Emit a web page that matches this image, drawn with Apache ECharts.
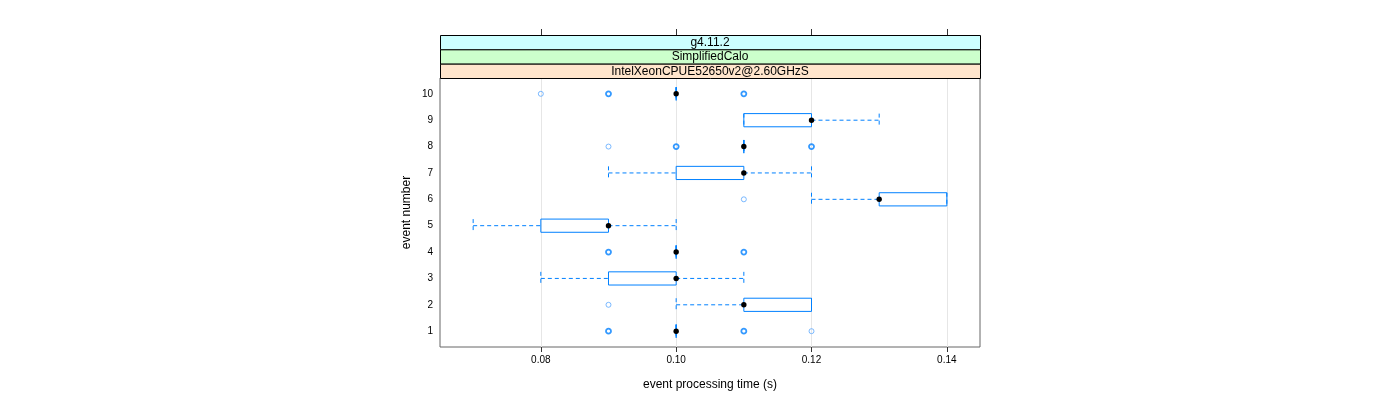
<!DOCTYPE html>
<html><head><meta charset="utf-8">
<script src="https://cdn.jsdelivr.net/npm/echarts@6/dist/echarts.min.js"></script>
<style>html,body{margin:0;padding:0;background:#fff}#c{width:1400px;height:400px}</style>
</head><body><div id="c"></div>
<script>
// ---- data ----
const events = [1, 2, 3, 4, 5, 6, 7, 8, 9, 10];
const whiskerLow  = [0.10, 0.10, 0.08, 0.10, 0.07, 0.12, 0.09, 0.11, 0.11, 0.10];
const quart1      = [0.10, 0.11, 0.09, 0.10, 0.08, 0.13, 0.10, 0.11, 0.11, 0.10];
const medians     = [0.10, 0.11, 0.10, 0.10, 0.09, 0.13, 0.11, 0.11, 0.12, 0.10];
const quart3      = [0.10, 0.12, 0.10, 0.10, 0.09, 0.14, 0.11, 0.11, 0.12, 0.10];
const whiskerHigh = [0.10, 0.12, 0.11, 0.10, 0.10, 0.14, 0.12, 0.11, 0.13, 0.10];
const outlierEvents = [1, 1, 1, 2, 4, 4, 6, 8, 8, 8, 10, 10, 10];
const outlierValues = [0.09, 0.11, 0.12, 0.09, 0.09, 0.11, 0.11, 0.09, 0.10, 0.12, 0.08, 0.09, 0.11];
const outlierCounts = [2, 2, 1, 1, 2, 2, 1, 1, 2, 2, 1, 2, 2];
const xTicks = [0.08, 0.10, 0.12, 0.14];
const xTickLabels = ['0.08', '0.10', '0.12', '0.14'];
const stripLabels = ['g4.11.2', 'SimplifiedCalo', 'IntelXeonCPUE52650v2@2.60GHzS'];
const xTitle = 'event processing time (s)';
const yTitle = 'event number';

// ---- style / layout ----
const BLUE = '#0080ff';
const FONT = 'Liberation Sans, Arial, sans-serif';
const GL = 440, GR = 420, GT = 78, GB = 53, GW = 1400 - GL - GR;
const STRIP_TOP = 35, STRIP_H = (GT - STRIP_TOP) / 3;
const stripColors = ['#ccffff', '#ccffcc', '#ffe5cc'];

const boxData = events.map((e, i) => [e, whiskerLow[i], quart1[i], medians[i], quart3[i], whiskerHigh[i]]);
const singles = [], repeats = [];
outlierEvents.forEach((e, i) => {
  (outlierCounts[i] > 1 ? repeats : singles).push([outlierValues[i], e]);
});

function renderBox(params, api) {
  const y = api.value(0);
  const lo = api.coord([api.value(1), y]);
  const b1 = api.coord([api.value(2), y]);
  const m = api.coord([api.value(3), y]);
  const b3 = api.coord([api.value(4), y]);
  const hi = api.coord([api.value(5), y]);
  const h = Math.abs(api.size([0, 0.5])[1]);
  const half = h / 2, cy = m[1];
  const dash = { stroke: BLUE, lineWidth: 1, lineDash: [4, 3], fill: null };
  return { type: 'group', children: [
    { type: 'line', shape: { x1: lo[0], y1: cy, x2: b1[0], y2: cy }, style: dash },
    { type: 'line', shape: { x1: b3[0], y1: cy, x2: hi[0], y2: cy }, style: dash },
    { type: 'line', shape: { x1: lo[0], y1: cy - half, x2: lo[0], y2: cy + half }, style: dash },
    { type: 'line', shape: { x1: hi[0], y1: cy - half, x2: hi[0], y2: cy + half }, style: dash },
    { type: 'rect', shape: { x: b1[0], y: cy - half, width: b3[0] - b1[0], height: h },
      style: { fill: null, stroke: BLUE, lineWidth: 1 } },
    { type: 'circle', shape: { cx: m[0], cy: cy, r: 2.7 }, style: { fill: '#000' } }
  ]};
}

const graphics = [];
stripLabels.forEach((s, i) => {
  graphics.push({ type: 'rect', left: GL, top: STRIP_TOP + i * STRIP_H, z: 10,
    shape: { width: GW, height: STRIP_H },
    style: { fill: stripColors[i], stroke: '#000', lineWidth: 1 } });
  graphics.push({ type: 'text', z: 11,
    x: GL + GW / 2, y: STRIP_TOP + i * STRIP_H + STRIP_H / 2 + 0.5,
    style: { text: s, fill: '#000', font: '12px ' + FONT, align: 'center', verticalAlign: 'middle' } });
});

const chart = echarts.init(document.getElementById('c'), null, { renderer: 'canvas' });
chart.setOption({
  animation: false,
  backgroundColor: '#fff',
  textStyle: { fontFamily: FONT },
  grid: { left: GL, right: GR, top: GT, bottom: GB, show: true, borderColor: '#666', borderWidth: 1, backgroundColor: 'transparent' },
  xAxis: [{
    type: 'value', position: 'bottom', min: 0.0651, max: 0.1449,
    axisLine: { show: false },
    axisTick: { show: true, customValues: xTicks, length: 5, lineStyle: { color: '#333' } },
    axisLabel: { customValues: xTicks, formatter: v => xTickLabels[xTicks.findIndex(t => Math.abs(t - v) < 1e-9)] || '',
      color: '#000', fontSize: 10, margin: 8, fontFamily: FONT },
    splitLine: { show: true, customValues: xTicks, lineStyle: { color: '#e6e6e6', width: 1 } },
    name: xTitle, nameLocation: 'middle', nameGap: 32,
    nameTextStyle: { color: '#000', fontSize: 12, fontFamily: FONT }
  }, {
    type: 'value', position: 'top', offset: GT - STRIP_TOP, min: 0.0651, max: 0.1449,
    axisLine: { show: false },
    axisTick: { show: true, customValues: xTicks, length: 6, lineStyle: { color: '#333' } },
    axisLabel: { show: false, customValues: xTicks },
    splitLine: { show: false }
  }],
  yAxis: {
    type: 'value', min: 0.4, max: 10.6,
    axisLine: { show: false },
    axisTick: { show: false, customValues: events },
    axisLabel: { customValues: events, color: '#000', fontSize: 10, margin: 7, fontFamily: FONT },
    splitLine: { show: false },
    name: yTitle, nameLocation: 'middle', nameGap: 27,
    nameTextStyle: { color: '#000', fontSize: 12, fontFamily: FONT }
  },
  graphic: graphics,
  series: [
    { type: 'custom', renderItem: renderBox, data: boxData, encode: { x: [1, 2, 3, 4, 5], y: 0 }, z: 3 },
    { type: 'scatter', data: singles, symbol: 'circle', symbolSize: 5, z: 4,
      itemStyle: { color: 'rgba(255,255,255,0)', borderColor: '#5aa8ff', borderWidth: 1 } },
    { type: 'scatter', data: repeats, symbol: 'circle', symbolSize: 5, z: 4,
      itemStyle: { color: 'rgba(255,255,255,0)', borderColor: BLUE, borderWidth: 1.8 } }
  ]
});
</script>
</body></html>
